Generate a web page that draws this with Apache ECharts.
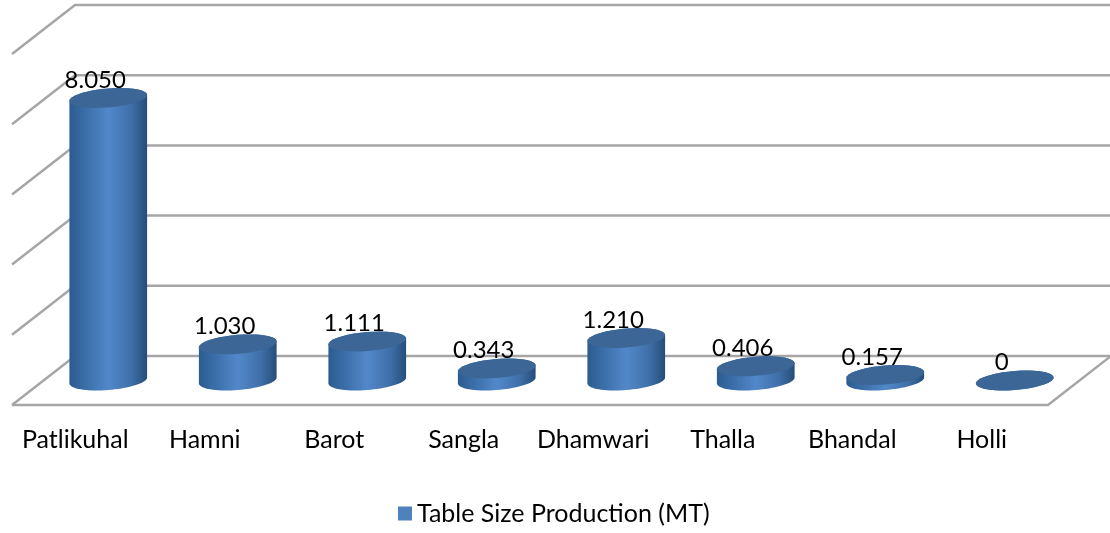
<!DOCTYPE html>
<html>
<head>
<meta charset="utf-8">
<script src="https://cdn.jsdelivr.net/npm/echarts@6/dist/echarts.min.js"></script>
<style>
html, body { margin: 0; background: #fff; }
#chart { width: 1110px; height: 533px; }
</style>
</head>
<body>
<div id="chart"></div>
<script>
const categories = ['Patlikuhal', 'Hamni', 'Barot', 'Sangla', 'Dhamwari', 'Thalla', 'Bhandal', 'Holli'];
const production = [8.05, 1.03, 1.111, 0.343, 1.21, 0.406, 0.157, 0];
const ticks = [0, 2, 4, 6, 8, 10];
const seriesName = 'Table Size Production (MT)';

const depthX = 63, depthY = 49;
const font = 'Lato';

const chart = echarts.init(document.getElementById('chart'));

// tilted ellipse, k shears it so the right end sits higher than the left
function ring(cx, cy, a, from, to) {
    const b = 9.5, k = 3, pts = [];
    for (let i = 0; i <= 36; i++) {
        const t = from + (to - from) * i / 36;
        pts.push([cx + a * Math.cos(t), cy + b * Math.sin(t) - k * Math.cos(t)]);
    }
    return pts;
}

function renderWall(params, api) {
    const rect = params.coordSys;
    const y = api.coord([0, api.value(1)])[1];
    const x0 = rect.x, x1 = rect.x + rect.width;
    const style = {stroke: '#a6a6a6', lineWidth: 2.5, fill: null};
    const pts = [[x0, y], [x0 + depthX, y - depthY], [x1 + depthX, y - depthY]];
    const children = [{type: 'polyline', shape: {points: pts}, style: style}];
    if (api.value(1) === 0) {
        children.push({
            type: 'polyline',
            shape: {points: [[x0, y], [x1, y], [x1 + depthX, y - depthY]]},
            style: style
        });
    }
    return {type: 'group', children: children};
}

function renderCylinder(params, api) {
    const value = api.value(1);
    const base = api.coord([api.value(0), 0]);
    const top = api.coord([api.value(0), value]);
    const cx = base[0] + depthX / 2;
    const by = base[1] - depthY / 2;
    const ty = top[1] - depthY / 2;
    const a = api.size([1, 0])[0] * 0.3;
    const body = ring(cx, by, a, 0, Math.PI).concat(ring(cx, ty, a, Math.PI, 2 * Math.PI));
    return {
        type: 'group',
        children: [
            {
                type: 'polygon',
                shape: {points: body},
                style: {
                    fill: new echarts.graphic.LinearGradient(0, 0, 1, 0, [
                        {offset: 0, color: '#2b5c90'},
                        {offset: 0.5, color: '#5288ca'},
                        {offset: 0.8, color: '#3f6fa8'},
                        {offset: 1, color: '#254d7a'}
                    ])
                }
            },
            {
                type: 'polygon',
                shape: {points: ring(cx, ty, a, 0, 2 * Math.PI)},
                style: {fill: '#3b6696'}
            },
            {
                type: 'text',
                style: {
                    x: cx - 13,
                    y: ty - 18,
                    text: value === 0 ? '0' : value.toFixed(3),
                    fill: '#000',
                    font: '24px ' + font,
                    align: 'center',
                    verticalAlign: 'middle'
                },
                z2: 10
            }
        ]
    };
}

const option = {
    animation: false,
    textStyle: {fontFamily: font},
    grid: {left: 12, right: 62, top: 54, bottom: 128},
    legend: {
        data: [seriesName],
        left: 393,
        top: 496,
        icon: 'rect',
        itemWidth: 14,
        itemHeight: 14,
        itemGap: 9,
        textStyle: {fontFamily: font, fontSize: 25, color: '#000'}
    },
    xAxis: {
        type: 'category',
        data: categories,
        axisLine: {show: false},
        axisTick: {show: false},
        axisLabel: {margin: 22, padding: [0, 3, 0, 0], fontFamily: font, fontSize: 25, color: '#000', interval: 0}
    },
    yAxis: {
        type: 'value',
        min: 0,
        max: 10,
        interval: 2,
        axisLine: {show: false},
        axisTick: {show: false},
        axisLabel: {show: false},
        splitLine: {show: false}
    },
    series: [
        {
            type: 'custom',
            name: 'walls',
            silent: true,
            renderItem: renderWall,
            data: ticks.map(t => [0, t]),
            z: 1
        },
        {
            type: 'custom',
            name: seriesName,
            renderItem: renderCylinder,
            itemStyle: {color: '#4f81bd'},
            data: production.map((v, i) => [i, v]),
            z: 2
        }
    ]
};
chart.setOption(option);
</script>
</body>
</html>
